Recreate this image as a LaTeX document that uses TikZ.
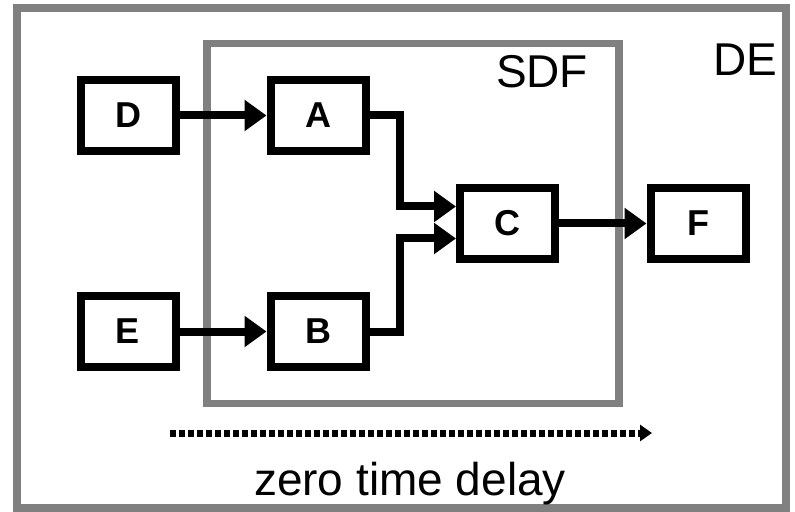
\documentclass[tikz,border=0pt]{standalone}
\usepackage{fontspec}
\setmainfont{Liberation Sans}
\usetikzlibrary{arrows.meta, calc}
\tikzset{
  block/.style={draw=black, line width=4pt, minimum width=47.5pt,
    minimum height=35.5pt, inner sep=0pt,
    font=\fontsize{18}{21}\selectfont\bfseries},
  frame/.style={draw=gray, line width=3.8pt},
  tag/.style={font=\fontsize{23}{27}\selectfont}
}

\begin{document}
\begin{tikzpicture}[x=0.5pt,y=-0.5pt]
\useasboundingbox (0,0) rectangle (795,512);
% DE and SDF frames
\draw[frame] (17,8) rectangle (786,508);
\draw[frame] (207,43.5) rectangle (619,403.5);
\begin{scope}[every node/.style={block}]
    \node (D) at (128,115.5) {D};
    \node (A) at (318,115.5) {A};
    \node (E) at (128,331.5) {E};
    \node (B) at (318,331.5) {B};
    \node (C) at (507.5,223.5) {C};
    \node (F) at (698,223.5) {F};
\end{scope}
\node[tag] (sdf) at (542,72) {SDF};
\node[tag] (de) at (745,60) {DE};
\node[tag] (delay) at (410,484) {zero time delay};
\coordinate (t0) at (170,433);
\coordinate (t1) at (652,433);
\begin{scope}[>={Triangle[length=11pt,width=15pt]},
              every edge/.style={draw=black, line width=4pt}]
    \path [->] (D) edge (A);
    \path [->] (E) edge (B);
    \path [->] (C) edge (F);
    \draw [->, line width=4pt] (A.east) -- ++(15pt,0) |- ([yshift=8.5pt]C.west);
    \draw [->, line width=4pt] (B.east) -- ++(15pt,0) |- ([yshift=-7.5pt]C.west);
\end{scope}
\draw [line width=3.5pt, dash pattern=on 3pt off 1.5pt,
       -{Triangle[length=6pt,width=8pt]}] (t0) -- (t1);
\end{tikzpicture}
\end{document}
